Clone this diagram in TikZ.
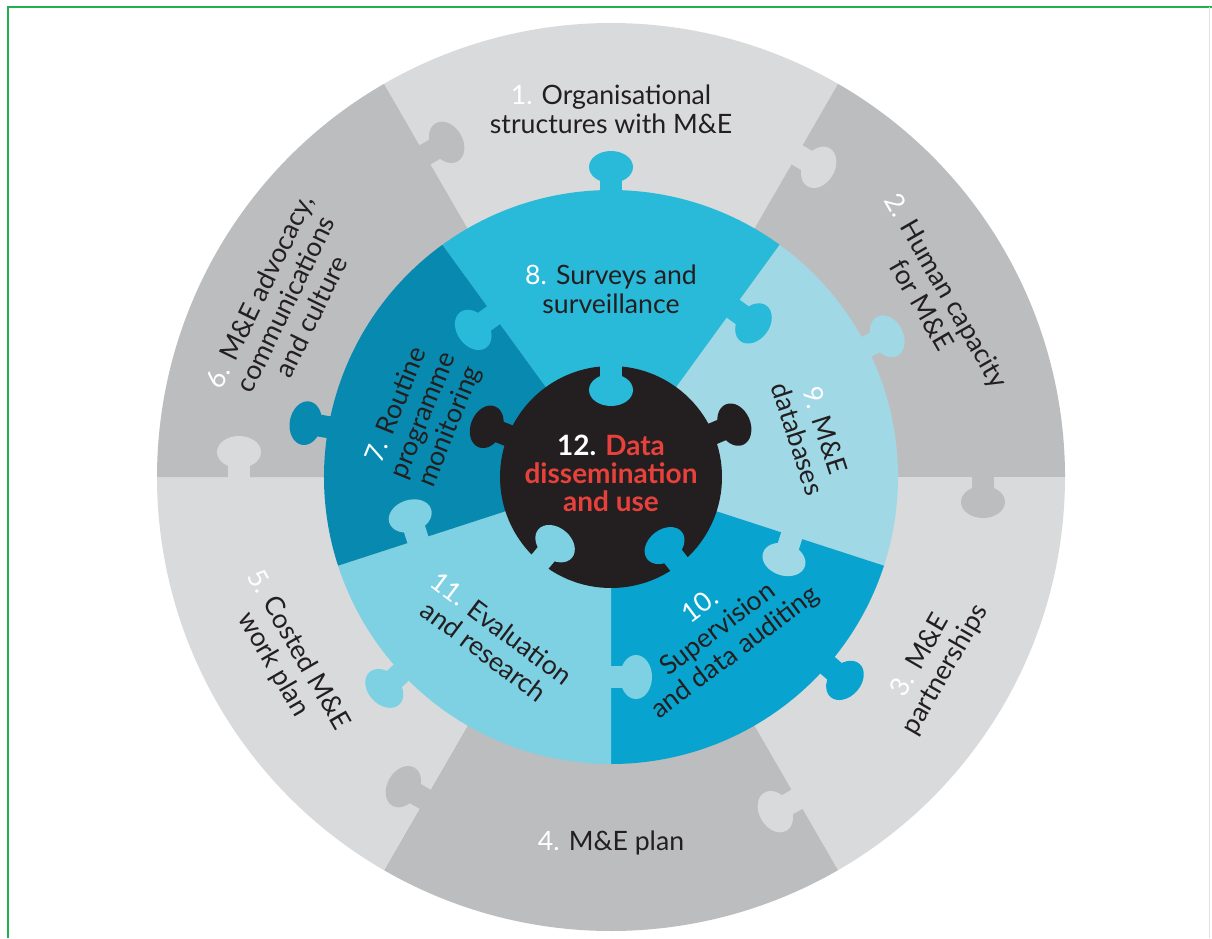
\documentclass[tikz,border=0pt]{standalone}
\usepackage{fontspec}
\setmainfont{Lato}
\usepackage{tikz}

\definecolor{greyA}{RGB}{217,218,219}
\definecolor{greyB}{RGB}{188,189,191}
\definecolor{teal7}{RGB}{8,138,176}
\definecolor{cyan8}{RGB}{42,186,217}
\definecolor{pale9}{RGB}{160,216,230}
\definecolor{blue10}{RGB}{8,164,207}
\definecolor{light11}{RGB}{126,208,227}
\definecolor{blk}{RGB}{35,31,32}
\definecolor{txt}{RGB}{35,31,32}
\definecolor{redtxt}{RGB}{232,65,60}
\definecolor{frame}{RGB}{33,178,80}

% puzzle knob: angle, radius, direction, colour
\newcommand{\knob}[4]{%
  \begin{scope}[shift={(#1:#2)},rotate=#3]
    \fill[#4] (-3,-11) rectangle (16,11);
    \fill[#4] (25,0) ellipse[x radius=16,y radius=22];
  \end{scope}}
\newcommand{\num}[1]{\textcolor{white}{#1}}

\tikzset{lbl/.style={text=txt,align=center,inner sep=0pt,font=\fontsize{20}{21.5}\selectfont}}

\begin{document}
\begin{tikzpicture}[x=0.75pt,y=0.75pt,yscale=-1,xscale=1]
  \useasboundingbox (0,0) rectangle (1212,938);
  \draw[frame,line width=1.5] (8,938) -- (8,7) -- (1212,7);
  \draw[black!12,line width=0.75] (1209,7) -- (1209,938);

  \begin{scope}[shift={(611,477)},yscale=-1]
  % outer ring
  \fill[greyA] (0,0) -- (60:454) arc[start angle=60,end angle=120,radius=454] -- cycle;
  \fill[greyB] (0,0) -- (0:454) arc[start angle=0,end angle=60,radius=454] -- cycle;
  \fill[greyA] (0,0) -- (-60:454) arc[start angle=-60,end angle=0,radius=454] -- cycle;
  \fill[greyB] (0,0) -- (240:454) arc[start angle=240,end angle=300,radius=454] -- cycle;
  \fill[greyA] (0,0) -- (180:454) arc[start angle=180,end angle=240,radius=454] -- cycle;
  \fill[greyB] (0,0) -- (120:454) arc[start angle=120,end angle=180,radius=454] -- cycle;
  \knob{60}{372}{-30}{greyA}
  \knob{0}{372}{-90}{greyB}
  \knob{300}{372}{210}{greyA}
  \knob{240}{372}{150}{greyB}
  \knob{180}{372}{90}{greyA}
  \knob{120}{372}{30}{greyB}

  % inner ring
  \fill[cyan8] (0,0) -- (54:287) arc[start angle=54,end angle=126,radius=287] -- cycle;
  \fill[pale9] (0,0) -- (-18:287) arc[start angle=-18,end angle=54,radius=287] -- cycle;
  \fill[blue10] (0,0) -- (-90:287) arc[start angle=-90,end angle=-18,radius=287] -- cycle;
  \fill[light11] (0,0) -- (198:287) arc[start angle=198,end angle=270,radius=287] -- cycle;
  \fill[teal7] (0,0) -- (126:287) arc[start angle=126,end angle=198,radius=287] -- cycle;
  \knob{90}{285}{90}{cyan8}
  \knob{170}{285}{170}{teal7}
  \knob{27}{285}{27}{pale9}
  \knob{-41}{285}{-41}{blue10}
  \knob{223}{285}{223}{light11}
  \knob{126}{200}{216}{cyan8}
  \knob{54}{208}{-36}{cyan8}
  \knob{-18}{190}{-108}{pale9}
  \knob{270}{200}{0}{light11}
  \knob{198}{203}{108}{light11}

  % centre piece
  \fill[blk] (0,0) circle[radius=111];
  \knob{158}{109}{158}{blk}
  \knob{23}{109}{23}{blk}
  \knob{90}{112}{270}{cyan8}
  \knob{230}{112}{50}{light11}
  \knob{308}{112}{128}{blue10}

  % labels
  \node[lbl] (org) at (90:368) {\num{1.} Organisational\\structures with M\&E};
  \node[lbl,rotate=-60] (hum) at (29:370) {\num{2.} Human capacity\\for M\&E};
  \node[lbl,rotate=60] (part) at (-30:372) {\num{3.} M\&E\\partnerships};
  \node[lbl] (plan) at (-90:366) {\num{4.} M\&E plan};
  \node[lbl,rotate=-60] (cost) at (209:372) {\num{5.} Costed M\&E\\work plan};
  \node[lbl,rotate=64] (adv) at (152:369) {\num{6.} M\&E advocacy,\\communications\\and culture};
  \node[lbl,rotate=68] (rout) at (162:197) {\num{7.} Routine\\programme\\monitoring};
  \node[lbl] (surv) at (90:188) {\num{8.} Surveys and\\surveillance};
  \node[lbl,rotate=-72] (dbase) at (12:205) {\num{9.} M\&E\\databases};
  \node[lbl,rotate=37] (supv) at (-55:187) {\num{10.}\\Supervision\\and data auditing};
  \node[lbl,rotate=-37] (eval) at (234:201) {\num{11.} Evaluation\\and research};
  \node[lbl,text=redtxt,font=\fontsize{21}{21}\selectfont\bfseries] (data) at (0,4)
    {\num{12.} Data\\dissemination\\and use};
  \end{scope}
\end{tikzpicture}
\end{document}
